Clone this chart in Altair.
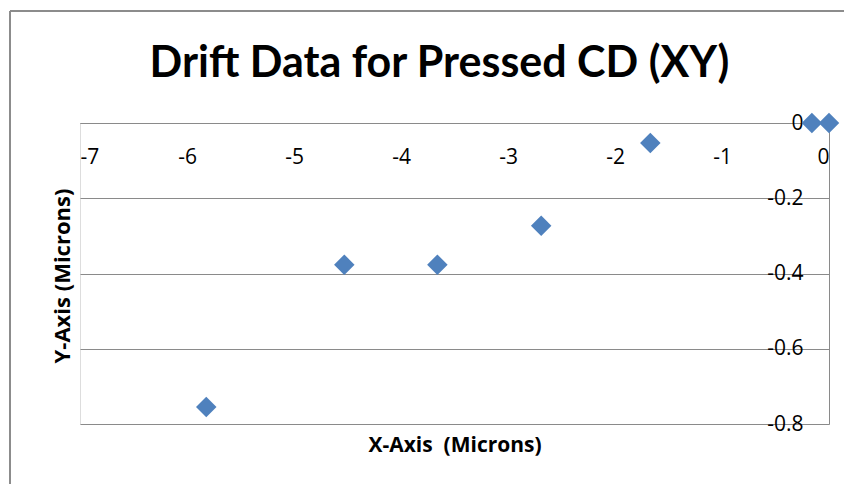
import altair as alt
import pandas as pd

# Data
x_microns = [-5.82, -4.53, -3.66, -2.69, -1.67, -0.16, 0.0]
y_microns = [-0.755, -0.377, -0.377, -0.273, -0.053, 0.0, 0.0]
x_ticks = [-7, -6, -5, -4, -3, -2, -1, 0]
y_ticks = [0, -0.2, -0.4, -0.6, -0.8]
chart_title = "Drift Data for Pressed CD (XY)"
x_title = "X-Axis\u00a0 (Microns)"
y_title = "Y-Axis (Microns)"

W, H = 749, 301
TFONT = "Lato"
FONT = "Open Sans"
GRID = "#8a8a8a"

df = pd.DataFrame({"x": x_microns, "y": y_microns})

points = alt.Chart(df).mark_point(
    shape="diamond", filled=True, size=420, color="#4F81BD", opacity=1
).encode(
    x=alt.X(
        "x:Q",
        scale=alt.Scale(domain=[-7, 0], nice=False, zero=False),
        axis=alt.Axis(
            orient="bottom", offset=-H, values=x_ticks,
            labelExpr="'' + datum.value",
            grid=False, ticks=False, tickSize=0, domain=True, domainColor=GRID,
            labelFont=FONT, labelFontSize=21, labelColor="black", labelPadding=23,
            title=x_title, titleFont=FONT, titleFontSize=21,
            titleFontWeight="bold", titleColor="black", titleY=322,
            titleBaseline="middle",
        ),
    ),
    y=alt.Y(
        "y:Q",
        scale=alt.Scale(domain=[-0.8, 0], nice=False, zero=False),
        axis=alt.Axis(
            orient="left", offset=-W, values=y_ticks,
            labelExpr="'' + datum.value",
            grid=True, gridColor=GRID, gridWidth=1, ticks=False, tickSize=0,
            domain=True, domainColor=GRID,
            labelFont=FONT, labelFontSize=21, labelColor="black", labelPadding=26,
            title=y_title, titleFont=FONT, titleFontSize=22,
            titleFontWeight="bold", titleColor="black",
            titleX=-767, titleY=H / 2 + 2, titleAngle=-90, titleBaseline="middle",
            titleAlign="center",
        ),
    ),
)

one = pd.DataFrame({"t": [chart_title]})
border_left = alt.Chart(one).mark_rule(color="#8c8c8c", strokeWidth=2).encode(
    x=alt.value(-70), y=alt.value(-112), y2=alt.value(H + 60)
)
border_top = alt.Chart(one).mark_rule(color="#8c8c8c", strokeWidth=2).encode(
    x=alt.value(-70), x2=alt.value(W + 15), y=alt.value(-112)
)
title_mark = alt.Chart(one).mark_text(
    font=TFONT, fontSize=43, fontWeight="bold", color="black",
    align="center", baseline="middle",
).encode(text="t:N", x=alt.value(W / 2 - 15), y=alt.value(-59))

chart = alt.layer(border_left, border_top, title_mark, points).properties(
    width=W,
    height=H,
    padding={"left": 72, "top": 115, "right": 15, "bottom": 60},
    autosize=alt.AutoSizeParams(type="none"),
).configure_view(stroke=None).configure(background="white")

chart.save("out.html", embed_options={"renderer": "svg", "actions": False})
